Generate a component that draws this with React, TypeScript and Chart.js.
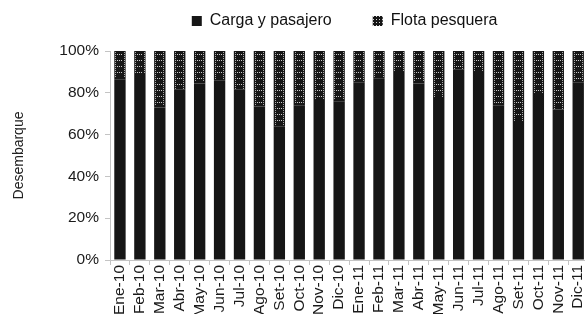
import React, { useEffect, useRef } from "react";
import { Chart, registerables } from "chart.js";

Chart.register(...registerables);

const categories = [
  "Ene-10", "Feb-10", "Mar-10", "Abr-10", "May-10", "Jun-10", "Jul-10", "Ago-10", "Set-10", "Oct-10", "Nov-10", "Dic-10",
  "Ene-11", "Feb-11", "Mar-11", "Abr-11", "May-11", "Jun-11", "Jul-11", "Ago-11", "Set-11", "Oct-11", "Nov-11", "Dic-11",
];
const cargaPasajero = [86.5, 88.5, 73, 81.5, 84.5, 86, 81.5, 73.5, 64, 74, 76.5, 76, 85, 87, 90, 84.5, 77.5, 91, 90, 74, 66, 79, 72, 85];
const flotaPesquera = [13.5, 11.5, 27, 18.5, 15.5, 14, 18.5, 26.5, 36, 26, 23.5, 24, 15, 13, 10, 15.5, 22.5, 9, 10, 26, 34, 21, 28, 15];
const yTicks = [0, 20, 40, 60, 80, 100];

const FONT = "'Liberation Sans', Arial, sans-serif";

function makePattern(): CanvasPattern | string {
  const c = document.createElement("canvas");
  c.width = 3;
  c.height = 3;
  const g = c.getContext("2d");
  if (!g) return "#161616";
  g.fillStyle = "#161616";
  g.fillRect(0, 0, 3, 3);
  g.fillStyle = "#d8d8d8";
  g.fillRect(1, 1, 1, 1);
  const p = g.createPattern(c, "repeat");
  return p || "#161616";
}

const filmPlugin = {
  id: "film",
  afterDatasetsDraw(chart: any) {
    const meta = chart.getDatasetMeta(1);
    const ctx = chart.ctx as CanvasRenderingContext2D;
    ctx.save();
    meta.data.forEach((bar: any) => {
      const { x, y, base, width } = bar.getProps(["x", "y", "base", "width"], true);
      const left = Math.round(x - width / 2);
      const right = Math.round(x + width / 2);
      const top = Math.round(Math.min(y, base));
      const bottom = Math.round(Math.max(y, base));
      ctx.fillStyle = "rgba(220,220,220,0.75)";
      for (let yy = top + 1; yy < bottom - 1; yy += 2) {
        ctx.fillRect(left + 1, yy, 1, 1);
        ctx.fillRect(right - 2, yy, 1, 1);
      }
      ctx.fillStyle = "rgba(235,235,235,0.85)";
      for (let yy = top + 3; yy < bottom - 2; yy += 6) {
        for (let xx = left + 3; xx < right - 3; xx += 2) ctx.fillRect(xx, yy, 1, 1);
      }
    });
    ctx.restore();
  },
};

export default function App() {
  const ref = useRef<HTMLCanvasElement | null>(null);

  useEffect(() => {
    if (!ref.current) return;
    Chart.defaults.font.family = FONT;
    const pattern = makePattern();
    const chart = new Chart(ref.current, {
      type: "bar",
      data: {
        labels: categories,
        datasets: [
          {
            label: "Carga y pasajero",
            data: cargaPasajero,
            backgroundColor: "#161616",
            barPercentage: 0.57,
            categoryPercentage: 1,
          },
          {
            label: "Flota pesquera",
            data: flotaPesquera,
            backgroundColor: "#161616",
            barPercentage: 0.57,
            categoryPercentage: 1,
          },
        ],
      },
      options: {
        responsive: false,
        animation: false,
        layout: { padding: { top: 3, left: 0, right: 0, bottom: 0 } },
        plugins: {
          tooltip: { enabled: false },
          title: {
            display: true,
            text: "",
            font: { size: 10 },
            padding: 0,
            weight: 500,
          } as any,
          legend: {
            position: "top",
            fullSize: false,
            labels: {
              font: { size: 16, family: FONT },
              color: "#111",
              boxWidth: 10,
              boxHeight: 10,
              padding: 10,
              generateLabels(c: any) {
                const items = (Chart.defaults.plugins.legend.labels as any).generateLabels(c);
                items[0].text = items[0].text + "       ";
                items[1].text = items[1].text + "  ";
                items[1].fillStyle = pattern;
                return items;
              },
            },
          },
        },
        scales: {
          x: {
            stacked: true,
            grid: {
              display: true,
              drawOnChartArea: false,
              drawTicks: true,
              tickLength: 5,
              offset: true,
              color: "#c4c4c4",
            },
            border: { display: true, color: "#c4c4c4" },
            ticks: {
              autoSkip: false,
              maxRotation: 90,
              minRotation: 90,
              padding: 0,
              color: "#1a1a1a",
              font: { size: 15.5, family: FONT },
            },
            afterFit(s: any) {
              s.height = 54;
            },
          },
          y: {
            stacked: true,
            min: 0,
            max: 100,
            afterBuildTicks(s: any) {
              s.ticks = yTicks.map((v) => ({ value: v }));
            },
            grid: {
              display: true,
              drawOnChartArea: false,
              drawTicks: true,
              tickLength: 5,
              color: "#c4c4c4",
            },
            border: { display: true, color: "#c4c4c4" },
            ticks: {
              padding: 6,
              color: "#1a1a1a",
              font: { size: 15.5, family: FONT },
              callback: (v: any) => v + "%",
            },
            title: {
              display: true,
              text: "Desembarque",
              color: "#222",
              font: { size: 14, family: FONT },
              padding: { top: 11, bottom: 0 },
            },
            afterFit(s: any) {
              s.width = 110;
            },
          },
        },
      },
      plugins: [filmPlugin],
    });
    return () => chart.destroy();
  }, []);

  return (
    <div style={{ position: "absolute", left: 0, top: 0, width: 585, height: 314, overflow: "hidden", background: "#fff" }}>
      <canvas ref={ref} width={597} height={314} style={{ width: 597, height: 314, display: "block" }} />
    </div>
  );
}
